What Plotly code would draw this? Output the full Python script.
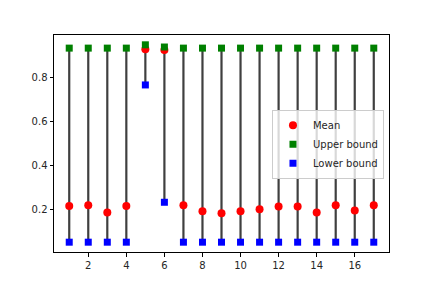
import plotly.graph_objects as go

x_vals = list(range(1, 18))
mean_vals = [0.215, 0.219, 0.186, 0.215, 0.926, 0.922, 0.219, 0.191, 0.182, 0.191,
             0.200, 0.213, 0.213, 0.186, 0.219, 0.195, 0.219]
upper_vals = [0.931, 0.931, 0.931, 0.931, 0.946, 0.936, 0.931, 0.931, 0.931, 0.931,
              0.931, 0.931, 0.931, 0.931, 0.931, 0.931, 0.931]
lower_vals = [0.051, 0.051, 0.051, 0.051, 0.764, 0.232, 0.051, 0.051, 0.051, 0.051,
              0.051, 0.051, 0.051, 0.051, 0.051, 0.051, 0.051]

lx, ly = [], []
for xv, lo, hi in zip(x_vals, lower_vals, upper_vals):
    lx += [xv, xv, None]
    ly += [lo, hi, None]

fig = go.Figure()
fig.add_trace(go.Scatter(x=lx, y=ly, mode="lines", line=dict(color="#3f3f3f", width=2.2),
                         showlegend=False, hoverinfo="skip"))
fig.add_trace(go.Scatter(x=x_vals, y=mean_vals, mode="markers", name="Mean",
                         marker=dict(symbol="circle", size=8, color="red")))
fig.add_trace(go.Scatter(x=x_vals, y=upper_vals, mode="markers", name="Upper bound",
                         marker=dict(symbol="square", size=7, color="green")))
fig.add_trace(go.Scatter(x=x_vals, y=lower_vals, mode="markers", name="Lower bound",
                         marker=dict(symbol="square", size=7, color="blue")))

axis_common = dict(showline=True, linecolor="black", linewidth=1, mirror=True,
                   ticks="outside", ticklen=3.5, tickcolor="black", showgrid=False,
                   zeroline=False, tickfont=dict(family="DejaVu Sans", size=10, color="#262626"))

# page body has an 8px default margin; compensate so the plot area lands where the reference has it
fig.update_layout(
    width=424, height=280,
    margin=dict(l=46, r=43, t=27, b=36),
    paper_bgcolor="white", plot_bgcolor="white",
    font=dict(family="DejaVu Sans", size=10, color="#262626"),
    xaxis=dict(range=[0.2, 17.8], tickvals=[2, 4, 6, 8, 10, 12, 14, 16], **axis_common),
    yaxis=dict(range=[0.0065, 0.9905], tickvals=[0.2, 0.4, 0.6, 0.8], tickformat=".1f", **axis_common),
    legend=dict(x=0.985, y=0.655, xanchor="right", yanchor="top",
                bgcolor="rgba(255,255,255,0.8)", bordercolor="#cccccc", borderwidth=1,
                font=dict(size=10), tracegroupgap=0),
    showlegend=True,
)

fig.write_html("out.html")
